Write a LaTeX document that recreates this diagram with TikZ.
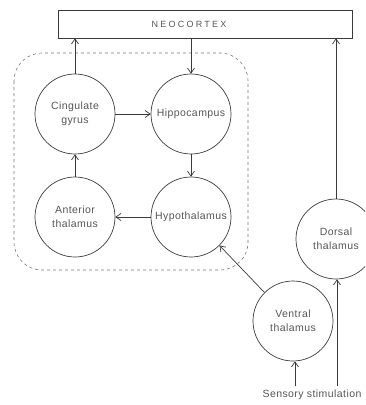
\documentclass[tikz,border=0pt]{standalone}
\usepackage{fontspec}
\setmainfont{Liberation Sans}[LetterSpace=4]
\newfontfamily\widefont{Liberation Sans}[LetterSpace=25]
\usetikzlibrary{arrows.meta}
\definecolor{ink}{HTML}{3A3A3A}
\definecolor{txt}{HTML}{555555}
\tikzset{
  region/.style={circle, draw=ink, line width=0.7pt, minimum size=80pt, inner sep=0pt,
    align=center, text=txt, font=\fontsize{10.5}{14}\selectfont},
  conn/.style={draw=ink, line width=0.7pt, -{Straight Barb[length=5pt,width=7pt]}},
}
\begin{document}
\begin{tikzpicture}[x=1pt,y=-1pt]
\useasboundingbox (0,0) rectangle (365,405);
\clip (0,0) rectangle (365,405);
% dashed limbic frame
\draw[ink!70, dashed, line width=0.6pt, rounded corners=28pt] (14,53) rectangle (248,270);
% neocortex box
\node[draw=ink, line width=0.7pt, minimum width=294pt, minimum height=28pt, inner sep=0pt] (neo) at (205,24) {};
\node[text=txt, font=\widefont\fontsize{9}{11}\selectfont] (neolabel) at (189,24) {NEOCORTEX};
% regions
\node[region] (cing) at (75,114) {Cingulate\\gyrus};
\node[region] (hipp) at (191,114) {Hippocampus};
\node[region] (hypo) at (191,217) {Hypothalamus};
\node[region] (ant) at (75,217) {Anterior\\thalamus};
\node[region] (dors) at (336,239) {Dorsal\\thalamus};
\node[region] (vent) at (293,321) {Ventral\\thalamus};
\node[text=txt, font=\fontsize{10.5}{12}\selectfont, inner sep=1pt] (sens) at (312,395) {Sensory stimulation};
% connectors
\draw[conn] (cing.north) -- (cing.north |- neo.south);
\draw[conn] (hipp.north |- neo.south) -- (hipp.north);
\draw[conn] (cing.east) -- (hipp.west);
\draw[conn] (hipp.south) -- (hypo.north);
\draw[conn] (hypo.west) -- (ant.east);
\draw[conn] (ant.north) -- (cing.south);
\draw[conn] (dors.north) -- (dors.north |- neo.south);
\draw[conn] (vent.135) -- (hypo.-45);
\coordinate (sv) at (295,386);
\coordinate (sd) at (337,386);
\draw[conn] (sv) -- (sv |- vent.south);
\draw[conn] (sd) -- (sd |- dors.south);
\end{tikzpicture}
\end{document}
